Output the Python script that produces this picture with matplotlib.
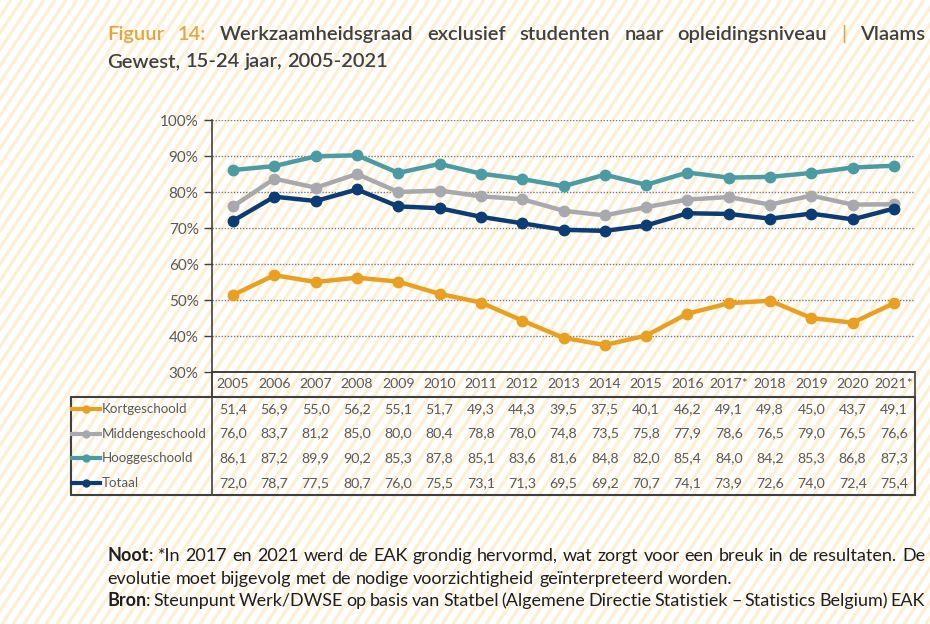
import matplotlib
matplotlib.use("Agg")
import numpy as np
import matplotlib.pyplot as plt
from matplotlib.patches import Rectangle
from matplotlib.collections import LineCollection

# data
years = ["2005", "2006", "2007", "2008", "2009", "2010", "2011", "2012", "2013",
         "2014", "2015", "2016", "2017*", "2018", "2019", "2020", "2021*"]
kort = [51.4, 56.9, 55.0, 56.2, 55.1, 51.7, 49.3, 44.3, 39.5, 37.5, 40.1, 46.2, 49.1, 49.8, 45.0, 43.7, 49.1]
midden = [76.0, 83.7, 81.2, 85.0, 80.0, 80.4, 78.8, 78.0, 74.8, 73.5, 75.8, 77.9, 78.6, 76.5, 79.0, 76.5, 76.6]
hoog = [86.1, 87.2, 89.9, 90.2, 85.3, 87.8, 85.1, 83.6, 81.6, 84.8, 82.0, 85.4, 84.0, 84.2, 85.3, 86.8, 87.3]
totaal = [72.0, 78.7, 77.5, 80.7, 76.0, 75.5, 73.1, 71.3, 69.5, 69.2, 70.7, 74.1, 73.9, 72.6, 74.0, 72.4, 75.4]
series_names = ["Kortgeschoold", "Middengeschoold", "Hooggeschoold", "Totaal"]
series_colors = ["#E9A020", "#A7A9AC", "#4A9CA2", "#0C3C74"]
y_ticks = [30, 40, 50, 60, 70, 80, 90, 100]

W, H = 930, 624
TXT = "#595959"
plt.rcParams['font.family'] = ['Lato', 'DejaVu Sans']

fig = plt.figure(figsize=(9.3, 6.24), dpi=100)
fig.patch.set_facecolor("white")
renderer = fig.canvas.get_renderer()


def fx(px):
    return px / W


def fy(py):
    return 1 - py / H


# striped background
step, slope = 11.0, 1.5
segs = []
for x0 in np.arange(-H / slope, W + step, step):
    segs.append([(fx(x0), fy(H)), (fx(x0 + H / slope), fy(0))])
fig.add_artist(LineCollection(segs, colors="#FDEFD6", linewidths=2.4,
                              transform=fig.transFigure, zorder=-10))

# chart area
left, right, top, bottom = 212.4, 914.6, 120, 372
ax = fig.add_axes([fx(left), fy(bottom), fx(right - left), fy(top) - fy(bottom)])
ax.set_facecolor("none")
x = list(range(len(years)))
all_series = [kort, midden, hoog, totaal]
for vals, col in zip(all_series, series_colors):
    ax.plot(x, vals, color=col, lw=3.2, marker="o", ms=7.5, zorder=3, clip_on=False)
ax.set_xlim(-0.5, len(years) - 0.5)
ax.set_ylim(30, 100)
ax.set_yticks(y_ticks)
ax.set_yticklabels([f"{t}%" for t in y_ticks], color=TXT, fontsize=11)
ax.set_xticks([])
ax.tick_params(axis="y", direction="out", length=6, width=1, color="#404040", pad=4)
ax.grid(axis="y", color="#7A7A7A", lw=1, linestyle=(0, (1, 1.2)))
for s in ["top", "right"]:
    ax.spines[s].set_visible(False)
for s in ["left", "bottom"]:
    ax.spines[s].set_color("#404040")
    ax.spines[s].set_linewidth(1.2)

# data table
tleft, tbottom = 71, 495
colw = (right - left) / len(years)
tab = fig.add_axes([fx(tleft), fy(tbottom), fx(right - tleft), fy(bottom) - fy(tbottom)])
tab.set_facecolor("none")
tab.axis("off")
x0 = -0.5 - (left - tleft) / colw
tab.set_xlim(x0, len(years) - 0.5)
tab.set_ylim(5, 0)
lc = "#404040"
tab.add_patch(Rectangle((-0.5, 0), len(years), 1, fill=False, ec=lc, lw=1.2, clip_on=False))
tab.add_patch(Rectangle((x0, 1), len(years) - 0.5 - x0, 4, fill=False, ec=lc, lw=1.5, clip_on=False))
tab.plot([-0.5, -0.5], [0, 5], color=lc, lw=1.2, clip_on=False)
for i, yr in enumerate(years):
    tab.text(i, 0.5, yr, ha="center", va="center", fontsize=10.2, color=TXT)
for r, (name, vals, col) in enumerate(zip(series_names, all_series, series_colors)):
    yc = 1.5 + r
    tab.plot([x0 + 0.03, x0 + 0.7], [yc, yc], color=col, lw=3, clip_on=False)
    tab.plot([x0 + 0.36], [yc], color=col, marker="o", ms=5, clip_on=False)
    tab.text(x0 + 0.74, yc, name, ha="left", va="center", fontsize=9.6, color=TXT)
    for i, v in enumerate(vals):
        tab.text(i, yc, f"{v:.1f}".replace(".", ","), ha="center", va="center",
                 fontsize=10.2, color=TXT)


# text lines made of coloured / bold pieces, optionally justified
def text_line(words, xpx, ypx, size, weight, x_end=None):
    placed = []
    for word in words:
        parts = []
        for txt, col, w in word:
            t = fig.text(0, fy(ypx), txt, fontsize=size, color=col, fontweight=w or weight,
                         va="baseline", ha="left")
            parts.append((t, t.get_window_extent(renderer).width))
        placed.append(parts)
    widths = [sum(w for _, w in p) for p in placed]
    if x_end is not None and len(placed) > 1:
        gap = (x_end - xpx - sum(widths)) / (len(placed) - 1)
    else:
        sp = fig.text(0, 0, "a a", fontsize=size, fontweight=weight)
        sp2 = fig.text(0, 0, "aa", fontsize=size, fontweight=weight)
        gap = sp.get_window_extent(renderer).width - sp2.get_window_extent(renderer).width
        sp.remove()
        sp2.remove()
    cur = xpx
    for parts, wd in zip(placed, widths):
        c = cur
        for t, w in parts:
            t.set_x(fx(c))
            c += w
        cur += wd + gap


ORANGE_T = "#E9A33B"
DARK_T = "#404040"
NOTE = "#1F1F1F"


def plain(s, col):
    return [[(w, col, None)] for w in s.split()]


title1 = ([[("Figuur", ORANGE_T, None)], [("14:", ORANGE_T, None)]]
          + plain("Werkzaamheidsgraad exclusief studenten naar opleidingsniveau", DARK_T)
          + [[("|", ORANGE_T, None)]] + plain("Vlaams", DARK_T))
text_line(title1, 107, 40, 14.5, "semibold", x_end=925)
text_line(plain("Gewest, 15-24 jaar, 2005-2021", DARK_T), 107, 67, 14.5, "semibold")

note1 = ([[("Noot", NOTE, "bold"), (":", NOTE, None)]]
         + plain("*In 2017 en 2021 werd de EAK grondig hervormd, wat zorgt voor een breuk in de resultaten. De", NOTE))
text_line(note1, 107, 561, 13, "normal", x_end=925)
text_line(plain("evolutie moet bijgevolg met de nodige voorzichtigheid geïnterpreteerd worden.", NOTE),
          107, 584, 13, "normal")
note3 = ([[("Bron", NOTE, "bold"), (":", NOTE, None)]]
         + plain("Steunpunt Werk/DWSE op basis van Statbel (Algemene Directie Statistiek \u2013 Statistics Belgium) EAK", NOTE))
text_line(note3, 107, 606, 13, "normal", x_end=925)

fig.savefig("out.png", dpi=100)
